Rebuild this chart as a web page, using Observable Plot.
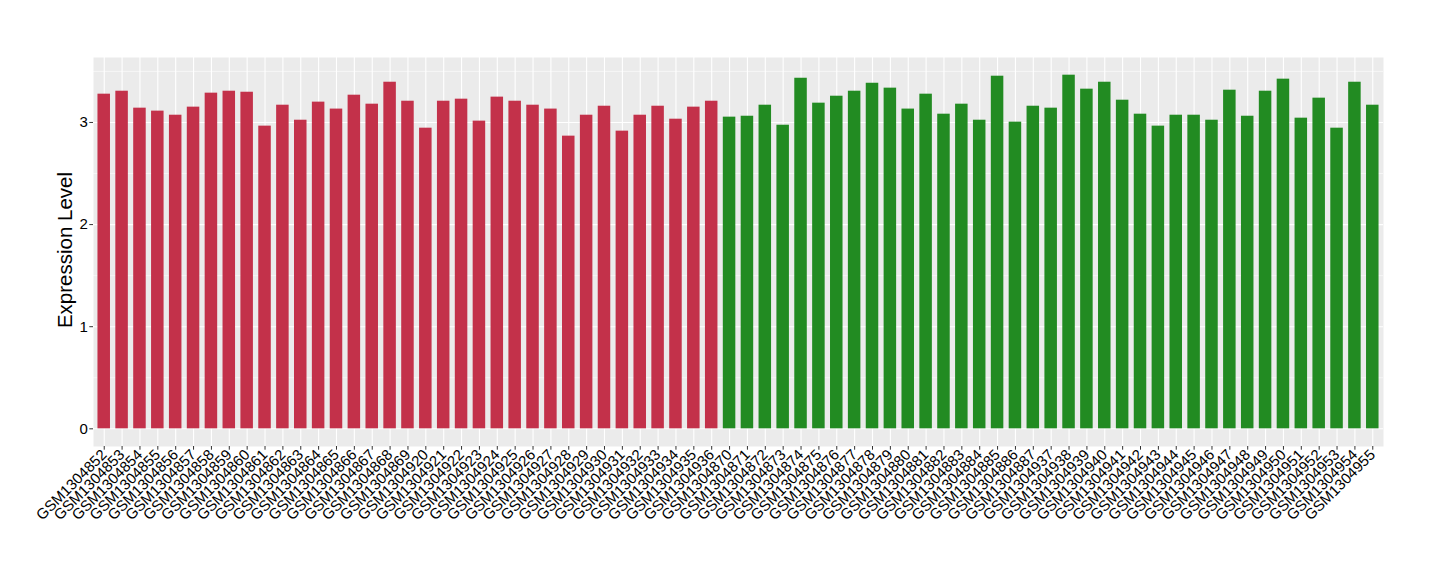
<!DOCTYPE html>
<html>
<head>
<meta charset="utf-8">
<script src="https://cdn.jsdelivr.net/npm/d3@7"></script>
<script src="https://cdn.jsdelivr.net/npm/@observablehq/plot@0.6"></script>
<style>
  html, body { margin: 0; padding: 0; background: white; }
  #chart svg { display: block; }
</style>
</head>
<body>
<div id="chart"></div>
<script>
const samples = [
  "GSM1304852","GSM1304853","GSM1304854","GSM1304855","GSM1304856","GSM1304857","GSM1304858","GSM1304859","GSM1304860",
  "GSM1304861","GSM1304862","GSM1304863","GSM1304864","GSM1304865","GSM1304866","GSM1304867","GSM1304868","GSM1304869",
  "GSM1304920","GSM1304921","GSM1304922","GSM1304923","GSM1304924","GSM1304925","GSM1304926","GSM1304927","GSM1304928",
  "GSM1304929","GSM1304930","GSM1304931","GSM1304932","GSM1304933","GSM1304934","GSM1304935","GSM1304936",
  "GSM1304870","GSM1304871","GSM1304872","GSM1304873","GSM1304874","GSM1304875","GSM1304876","GSM1304877","GSM1304878",
  "GSM1304879","GSM1304880","GSM1304881","GSM1304882","GSM1304883","GSM1304884","GSM1304885","GSM1304886","GSM1304887",
  "GSM1304937","GSM1304938","GSM1304939","GSM1304940","GSM1304941","GSM1304942","GSM1304943","GSM1304944","GSM1304945",
  "GSM1304946","GSM1304947","GSM1304948","GSM1304949","GSM1304950","GSM1304951","GSM1304952","GSM1304953","GSM1304954","GSM1304955"
];
const values = [
  3.277,3.306,3.140,3.111,3.071,3.150,3.287,3.306,3.296,
  2.964,3.169,3.022,3.199,3.131,3.267,3.179,3.394,3.208,
  2.944,3.208,3.228,3.013,3.248,3.208,3.169,3.131,2.866,
  3.071,3.159,2.915,3.071,3.159,3.032,3.150,3.208,
  3.052,3.061,3.169,2.973,3.433,3.189,3.257,3.306,3.384,
  3.336,3.131,3.277,3.081,3.179,3.022,3.453,3.003,3.159,
  3.140,3.463,3.326,3.394,3.218,3.081,2.964,3.071,3.071,
  3.022,3.316,3.061,3.306,3.424,3.042,3.238,2.944,3.394,3.169
];
const groups = samples.map((s, i) => i < 35 ? "A" : "B");
const groupColors = { A: "#C3314A", B: "#228B22" };
const yTicks = [0, 1, 2, 3];
const yMinor = [0.5, 1.5, 2.5, 3.5];

const data = samples.map((s, i) => ({ sample: s, value: values[i], group: groups[i] }));
const ymax = d3.max(values);
const font = "'Liberation Sans', Arial, Helvetica, sans-serif";

const chart = Plot.plot({
  width: 1440,
  height: 580,
  marginLeft: 93,
  marginRight: 57,
  marginTop: 57,
  marginBottom: 134,
  style: { fontFamily: font, color: "#000", background: "white" },
  x: { type: "band", domain: samples, paddingInner: 0.3, paddingOuter: 0.25, round: false, label: null },
  y: { domain: [-0.05 * ymax, ymax * 1.05], label: null },
  marks: [
    Plot.frame({ fill: "#EBEBEB", stroke: null }),
    Plot.ruleY(yMinor, { stroke: "white", strokeWidth: 0.55 }),
    Plot.ruleY(yTicks, { stroke: "white", strokeWidth: 1.1 }),
    Plot.gridX({ stroke: "white", strokeOpacity: 1, strokeWidth: 1.1 }),
    Plot.barY(data, { x: "sample", y: "value", fill: d => groupColors[d.group] }),
    Plot.axisY({ ticks: yTicks, tickFormat: d3.format("d"), tickSize: 3.7, tickPadding: 2, fontSize: 15, stroke: "#333", label: null }),
    Plot.axisX({ tickSize: 3.7, tickPadding: 2, tickRotate: -45, fontSize: 15, stroke: "#333", label: null }),
    Plot.text(["Expression Level"], { frameAnchor: "left", textAnchor: "middle", lineAnchor: "middle", dx: -28, dy: -2, rotate: -90, fontSize: 20.5, fill: "#000" })
  ]
});
document.getElementById("chart").appendChild(chart);
</script>
</body>
</html>
